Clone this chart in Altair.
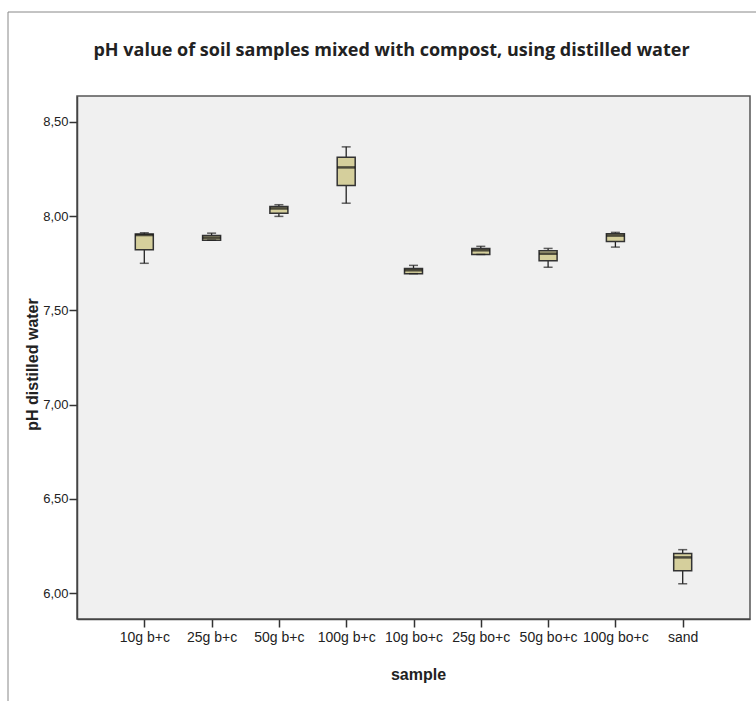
import altair as alt
import pandas as pd

samples = ["10g b+c", "25g b+c", "50g b+c", "100g b+c", "10g bo+c",
           "25g bo+c", "50g bo+c", "100g bo+c", "sand"]
whisker_low = [7.750, 7.873, 7.999, 8.069, 7.695, 7.797, 7.729, 7.836, 6.049]
q1 = [7.822, 7.873, 8.016, 8.163, 7.695, 7.797, 7.764, 7.866, 6.118]
median = [7.900, 7.886, 8.041, 8.259, 7.713, 7.819, 7.801, 7.897, 6.189]
q3 = [7.905, 7.898, 8.052, 8.313, 7.723, 7.829, 7.817, 7.907, 6.210]
whisker_high = [7.912, 7.910, 8.061, 8.368, 7.739, 7.840, 7.829, 7.914, 6.230]
y_ticks = [6.0, 6.5, 7.0, 7.5, 8.0, 8.5]

df = pd.DataFrame({
    "sample": samples, "lo": whisker_low, "q1": q1, "med": median,
    "q3": q3, "hi": whisker_high,
})

xenc = alt.X(
    "sample:N", sort=samples, title="sample",
    scale=alt.Scale(type="point", padding=1),
    axis=alt.Axis(
        labelAngle=0, labelFont="Liberation Sans", labelFontSize=14,
        labelColor="#222", tickSize=8, tickColor="#333", tickWidth=1.5,
        domainColor="#444", domainWidth=1.5, labelPadding=3,
        labelExpr="datum.value == '10g b+c' ? '10g b+c\u00a0\u00a0\u00a0\u00a0\u00a0\u00a0\u00a0\u00a0\u00a0\u00a0' : datum.value",
        titleFont="Liberation Sans", titleFontSize=16, titleFontWeight="bold",
        titleColor="#222", titlePadding=22, titleX=341,
    ),
)
yscale = alt.Scale(domain=[5.862, 8.638], nice=False, zero=False)
yaxis = alt.Axis(
    values=y_ticks, format=".2f", labelExpr="replace(datum.label, '.', ',')",
    grid=False, labelFont="Liberation Sans", labelFontSize=13,
    labelColor="#222", tickSize=8, tickColor="#333", tickWidth=1.5,
    domainColor="#444", domainWidth=1.5, labelPadding=1,
    title="pH distilled water", titleFont="Liberation Sans",
    titleFontSize=16, titleFontWeight="bold", titleColor="#222",
    titlePadding=2, titleY=268,
)

base = alt.Chart(df)

whisk = base.mark_rule(color="#222", strokeWidth=1.3).encode(
    x=xenc, y=alt.Y("lo:Q", scale=yscale, axis=yaxis), y2="hi:Q")
box = base.mark_bar(size=18, fill="#d5cf9c", stroke="#333",
                    strokeWidth=1.5).encode(
    x=xenc, y=alt.Y("q1:Q", scale=yscale), y2="q3:Q")
med = base.mark_tick(size=18, thickness=2.5, color="#111").encode(
    x=xenc, y=alt.Y("med:Q", scale=yscale))
cap_hi = base.mark_tick(size=9, thickness=1.5, color="#222").encode(
    x=xenc, y=alt.Y("hi:Q", scale=yscale))
cap_lo = base.mark_tick(size=9, thickness=1.5, color="#222").encode(
    x=xenc, y=alt.Y("lo:Q", scale=yscale))

frame_src = alt.Chart(pd.DataFrame({"k": [0]}))
frame_left = frame_src.mark_rule(color="#888", strokeWidth=1).encode(
    x=alt.value(-69), y=alt.value(-84), y2=alt.value(605))
frame_top = frame_src.mark_rule(color="#888", strokeWidth=1).encode(
    x=alt.value(-69), x2=alt.value(679), y=alt.value(-84))

chart = alt.layer(
    whisk, box, med, cap_hi, cap_lo, frame_left, frame_top
).properties(
    width=673, height=523,
    autosize=alt.AutoSizeParams(type="none"),
    padding={"left": 77, "top": 96, "right": 6, "bottom": 82},
    background="white",
    title=alt.TitleParams(
        "pH value of soil samples mixed with compost, using distilled water",
        font="Open Sans", fontSize=18, fontWeight="bold", color="#222",
        anchor="middle", offset=-48, dx=-22,
    ),
).configure_view(
    fill="#f0f0f0", stroke="#555", strokeWidth=1.5,
)

chart.save("out.html", embed_options={"renderer": "svg", "actions": False})
